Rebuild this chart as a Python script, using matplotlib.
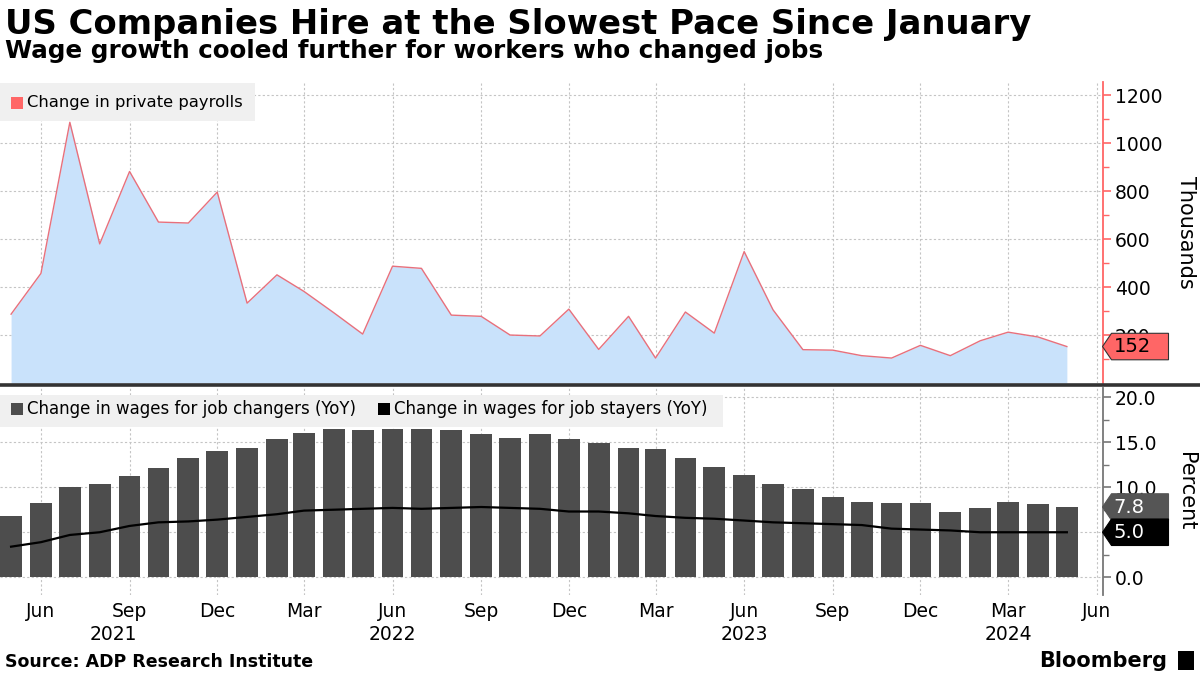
import matplotlib
matplotlib.use("Agg")
import matplotlib.pyplot as plt
import matplotlib.dates as mdates
from matplotlib.patches import Polygon, Rectangle
from matplotlib.lines import Line2D
import pandas as pd
import numpy as np

plt.rcParams['font.family'] = ['DejaVu Sans']

# monthly data, May 2021 .. May 2024
months = pd.date_range('2021-05-01', periods=37, freq='MS')

payrolls = [287, 457, 1087, 580, 882, 671, 667, 796,
            333, 451, 382, 293, 204, 487, 478, 283, 278, 200, 196, 308,
            140, 278, 104, 296, 208, 548, 305, 139, 137, 114, 104, 157,
            114, 176, 212, 192, 152]

job_changers = [6.8, 8.2, 10.0, 10.4, 11.2, 12.1, 13.2, 14.0,
                14.3, 15.3, 16.0, 16.4, 16.3, 16.5, 16.4, 16.3, 15.9, 15.5, 15.9, 15.3,
                14.9, 14.4, 14.2, 13.2, 12.2, 11.4, 10.4, 9.8, 8.9, 8.4, 8.2, 8.2,
                7.3, 7.7, 8.3, 8.1, 7.8]

job_stayers = [3.4, 3.9, 4.7, 5.0, 5.7, 6.1, 6.2, 6.4,
               6.7, 7.0, 7.4, 7.5, 7.6, 7.7, 7.6, 7.7, 7.8, 7.7, 7.6, 7.3,
               7.3, 7.1, 6.8, 6.6, 6.5, 6.3, 6.1, 6.0, 5.9, 5.8, 5.4, 5.3,
               5.2, 5.0, 5.0, 5.0, 5.0]

xtick_dates = pd.date_range('2021-06-01', '2024-06-01', freq='3MS')
year_labels = ['2021', '2022', '2023', '2024']
year_pos = pd.to_datetime(['2021-08-15', '2022-06-01', '2023-06-01', '2024-03-01'])

RED = '#ff6666'
LINE_RED = '#e8707c'
FILL = '#c9e2fb'
BAR = '#4d4d4d'
GRID = '#c4c4c4'

W, H = 1200, 675
fig = plt.figure(figsize=(12, 6.75), dpi=100)

xlim = (pd.Timestamp('2021-04-19 12:00'), pd.Timestamp('2024-06-07'))

ax1 = fig.add_axes([0, 1 - 383 / H, 1102.5 / W, 301 / H])
ax2 = fig.add_axes([0, 1 - 595 / H, 1102.5 / W, 207 / H])

# top panel: payrolls area
ax1.fill_between(months, payrolls, 0, color=FILL, lw=0)
ax1.plot(months, payrolls, color=LINE_RED, lw=1.0)
ax1.set_ylim(0, 1255)
ax1.set_yticks(range(200, 1201, 200))
ax1.set_yticks(range(100, 1201, 200), minor=True)

# bottom panel: wages
ax2.bar(months, job_changers, width=22.5, color=BAR, zorder=2)
ax2.plot(months, job_stayers, color='black', lw=1.6, zorder=3)
ax2.set_ylim(-1.96, 21)
ax2.set_yticks([0, 5, 10, 15, 20])
ax2.set_yticks([2.5, 7.5, 12.5, 17.5], minor=True)
ax2.set_yticklabels(['0.0', '5.0', '10.0', '15.0', '20.0'])

for ax, col in ((ax1, RED), (ax2, '#777777')):
    ax.set_xlim(*xlim)
    ax.set_xticks(xtick_dates)
    ax.grid(True, which='major', color=GRID, ls=(0, (2, 2)), lw=0.8, zorder=0)
    ax.set_axisbelow(True)
    for s in ('left', 'top', 'bottom'):
        ax.spines[s].set_visible(False)
    ax.spines['right'].set_color(col)
    ax.spines['right'].set_linewidth(1.3)
    ax.yaxis.tick_right()
    ax.tick_params(axis='y', which='major', direction='out', length=6, width=1.2,
                   color=col, labelsize=13.5, pad=3)
    ax.tick_params(axis='y', which='minor', direction='out', length=4, width=1,
                   color=col)
    ax.tick_params(axis='x', length=0)

ax1.set_xticklabels([])
ax2.xaxis.set_major_formatter(mdates.DateFormatter('%b'))
ax2.tick_params(axis='x', labelsize=13.5, pad=5)

for lab, d in zip(year_labels, year_pos):
    ax2.text(d, -0.145, lab, transform=ax2.get_xaxis_transform(),
             ha='center', va='top', fontsize=13.5)

# axis titles on the right
fig.text(1186 / W, 1 - 232 / H, 'Thousands', rotation=270, ha='center', va='center', fontsize=15)
fig.text(1186 / W, 1 - 491 / H, 'Percent', rotation=270, ha='center', va='center', fontsize=15)

# separator between panels
fig.add_artist(Line2D([0, 1], [1 - 384.8 / H] * 2, color='#333333', lw=2.6))


def tag(ax, val, txt, fc, tc, ec):
    fig.canvas.draw()
    x0 = ax.transAxes.transform((1, 0))[0]
    y0 = ax.transData.transform((mdates.date2num(months[0]), val))[1]
    h = 26.5
    pts = np.array([[x0, y0], [x0 + 9, y0 + h / 2], [x0 + 66, y0 + h / 2],
                    [x0 + 66, y0 - h / 2], [x0 + 9, y0 - h / 2]])
    pts = pts / [W, H]
    fig.add_artist(Polygon(pts, closed=True, transform=fig.transFigure,
                           facecolor=fc, edgecolor=ec, lw=0.8, zorder=5))
    fig.text((x0 + 11) / W, y0 / H, txt, ha='left', va='center', color=tc,
             fontsize=14, zorder=6)


tag(ax1, payrolls[-1], f'{payrolls[-1]}', RED, 'black', '#333333')
tag(ax2, job_changers[-1], f'{job_changers[-1]:.1f}', '#555555', 'white', '#555555')
tag(ax2, job_stayers[-1], f'{job_stayers[-1]:.1f}', 'black', 'white', 'black')

# legends (Bloomberg style grey boxes)
fig.add_artist(Rectangle((0, 1 - 121 / H), 255 / W, 38 / H, transform=fig.transFigure,
                         facecolor='#f0f0f0', edgecolor='none', zorder=4))
fig.add_artist(Rectangle((11 / W, 1 - 109 / H), 12 / W, 12 / H, transform=fig.transFigure,
                         facecolor=RED, edgecolor='none', zorder=5))
fig.text(27 / W, 1 - 102.5 / H, 'Change in private payrolls', fontsize=11.8,
         va='center', zorder=6)

fig.add_artist(Rectangle((0, 1 - 427 / H), 723 / W, 32 / H, transform=fig.transFigure,
                         facecolor='#f0f0f0', edgecolor='none', zorder=4))
fig.add_artist(Rectangle((11 / W, 1 - 415 / H), 12 / W, 12 / H, transform=fig.transFigure,
                         facecolor=BAR, edgecolor='none', zorder=5))
fig.text(27 / W, 1 - 409 / H, 'Change in wages for job changers (YoY)', fontsize=12,
         va='center', zorder=6)
fig.add_artist(Rectangle((378 / W, 1 - 415 / H), 12 / W, 12 / H, transform=fig.transFigure,
                         facecolor='black', edgecolor='none', zorder=5))
fig.text(394 / W, 1 - 409 / H, 'Change in wages for job stayers (YoY)', fontsize=12,
         va='center', zorder=6)

# titles
fig.text(5 / W, 1 - 34 / H, 'US Companies Hire at the Slowest Pace Since January',
         fontsize=24.4, fontweight='bold', va='baseline')
fig.text(5 / W, 1 - 58 / H, 'Wage growth cooled further for workers who changed jobs',
         fontsize=17.7, fontweight='bold', va='baseline')

# footer
fig.text(5 / W, 1 - 662 / H, 'Source: ADP Research Institute', fontsize=12.5,
         fontweight='bold', va='center')
fig.text(1167 / W, 1 - 661 / H, 'Bloomberg', fontsize=15, fontweight='bold',
         va='center', ha='right')
fig.add_artist(Rectangle((1178 / W, 1 - 670 / H), 16 / W, 19 / H, transform=fig.transFigure,
                         facecolor='black', edgecolor='none'))

fig.savefig('out.png', dpi=100)
